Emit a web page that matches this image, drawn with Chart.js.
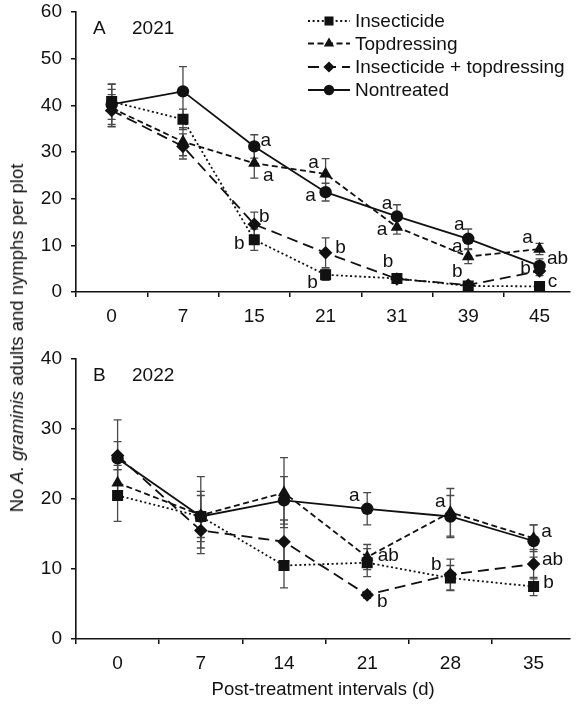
<!DOCTYPE html>
<html>
<head>
<meta charset="utf-8">
<script src="https://cdn.jsdelivr.net/npm/chart.js@4.4.1/dist/chart.umd.min.js"></script>
<style>
  html, body { margin: 0; padding: 0; background: #fff; overflow: hidden; }
  #wrap { position: relative; width: 578px; height: 704px; overflow: hidden; font-family: "Liberation Sans", Arial, sans-serif; color: #111; }
  .box { position: absolute; left: 0; width: 578px; }
  #ytitle { position: absolute; left: 17px; top: 338px; white-space: nowrap; font-size: 18.5px;
            transform: translate(-50%, -50%) rotate(-90deg); transform-origin: center; }
</style>
</head>
<body>
<div id="wrap">
  <div class="box" style="top:-10px;height:340px"><canvas id="cA"></canvas></div>
  <div class="box" style="top:330px;height:374px"><canvas id="cB"></canvas></div>
  <div id="ytitle">No <i>A. graminis</i> adults and nymphs per plot</div>
</div>
<script>
// ---------- DATA ----------
const seriesNames = ['Insecticide', 'Topdressing', 'Insecticide + topdressing', 'Nontreated'];

// Panel A (2021)
const daysA = ['0', '7', '15', '21', '31', '39', '45'];
const insA  = [40.8, 37.0, 11.2, 3.7, 2.9, 1.3, 1.2];
const topA  = [39.4, 32.2, 27.6, 25.3, 13.9, 7.6, 9.2];
const bothA = [38.9, 31.2, 14.5, 8.4, 2.8, 1.5, 4.5];
const nonA  = [40.2, 43.0, 31.2, 21.4, 16.2, 11.4, 5.6];
const errInsA  = [3.8, 2.2, 2.3, 1.2, 0.8, 0.4, 0.4];
const errTopA  = [4.0, 3.0, 3.2, 3.3, 1.5, 1.5, 1.2];
const errBothA = [3.4, 2.7, 2.6, 3.2, 0.8, 0.5, 1.0];
const errNonA  = [4.3, 5.3, 2.5, 1.9, 2.5, 2.1, 1.5];
const letInsA  = ['', '', 'b', 'b', 'b', 'b', 'c'];
const letTopA  = ['', '', 'a', 'a', 'a', 'a', 'a'];
const letBothA = ['', '', 'b', 'b', '', '', 'b'];
const letNonA  = ['', '', 'a', 'a', 'a', 'a', 'ab'];

// Panel B (2022)
const daysB = ['0', '7', '14', '21', '28', '35'];
const insB  = [20.5, 17.5, 10.5, 10.9, 8.7, 7.5];
const topB  = [22.3, 17.7, 20.9, 11.7, 18.1, 14.4];
const bothB = [26.2, 15.5, 13.9, 6.3, 9.2, 10.7];
const nonB  = [25.8, 17.5, 19.8, 18.6, 17.5, 14.0];
const errInsB  = [3.7, 3.6, 3.2, 2.0, 1.8, 1.3];
const errTopB  = [2.5, 5.5, 5.0, 1.8, 3.4, 1.9];
const errBothB = [2.0, 2.5, 3.1, 0.5, 2.2, 2.1];
const errNonB  = [5.5, 3.0, 3.4, 2.3, 3.0, 2.3];
const letInsB  = ['', '', '', '', 'b', 'b'];
const letTopB  = ['', '', '', 'ab', 'a', 'a'];
const letBothB = ['', '', '', 'b', '', 'ab'];
const letNonB  = ['', '', '', 'a', '', ''];

const yTicksA = [0, 10, 20, 30, 40, 50, 60];
const yTicksB = [0, 10, 20, 30, 40];

// ---------- STYLE / LAYOUT ----------
const FONT = '"Liberation Sans", Arial, sans-serif';
const INK = '#111';
const styles = [
  { dash: [2, 2.6], pointStyle: 'rect', radius: 7.8, legendR: 6.4 },
  { dash: [6, 3.5], pointStyle: 'triangle', radius: 7.2, legendR: 6.0 },
  { dash: [11, 6], pointStyle: 'rectRot', radius: 6.8, legendR: 5.6 },
  { dash: [], pointStyle: 'circle', radius: 6.2, legendR: 5.2 }
];
// letter offsets (pixels, relative to the point) — placement only
const offA = [
  [null, null, [-15, 4], [-13, 8], [-9, -17], [-11, -14], [13, -5]],
  [null, null, [14, 13], [-12, -11], [-15, 3], [-11, -10], [-12, -11]],
  [null, null, [10, -8], [15, -5], null, null, [-14, -2]],
  [null, null, [11.5, -6], [-15, 4], [-10, -13], [-9, -14], [18, -7]]
];
const offB = [
  [null, null, null, null, [-14, -13], [15, -4]],
  [null, null, null, [21, -1], [-10, -11], [13, -6]],
  [null, null, null, [15, 7], null, [19, -4]],
  [null, null, null, [-13, -13], null, null]
];

function buildDatasets(values) {
  return values.map((vals, si) => ({
    label: seriesNames[si],
    data: vals.map((v, i) => ({ x: i, y: v })),
    borderColor: INK,
    backgroundColor: INK,
    borderWidth: 1.8,
    borderDash: styles[si].dash,
    pointStyle: styles[si].pointStyle,
    pointRadius: styles[si].radius,
    pointHoverRadius: styles[si].radius,
    pointBackgroundColor: INK,
    pointBorderColor: INK,
    pointBorderWidth: 0,
    tension: 0,
    fill: false
  }));
}

function drawMarker(ctx, style, r, x, y) {
  ctx.beginPath();
  if (style === 'rect') {
    const s = r * Math.SQRT1_2;
    ctx.rect(x - s, y - s, 2 * s, 2 * s);
  } else if (style === 'triangle') {
    ctx.moveTo(x, y - r);
    ctx.lineTo(x + r * Math.sin(2 * Math.PI / 3), y - r * Math.cos(2 * Math.PI / 3));
    ctx.lineTo(x + r * Math.sin(4 * Math.PI / 3), y - r * Math.cos(4 * Math.PI / 3));
    ctx.closePath();
  } else if (style === 'rectRot') {
    ctx.moveTo(x, y - r); ctx.lineTo(x + r, y); ctx.lineTo(x, y + r); ctx.lineTo(x - r, y);
    ctx.closePath();
  } else {
    ctx.arc(x, y, r, 0, Math.PI * 2);
  }
  ctx.fill();
}

function makePlugin(cfg) {
  return {
    id: 'annot' + cfg.name,
    beforeDatasetsDraw(chart) {
      const ctx = chart.ctx, ys = chart.scales.y;
      ctx.save();
      ctx.strokeStyle = '#4a4a4a';
      ctx.lineWidth = 1.3;
      ctx.setLineDash([]);
      chart.data.datasets.forEach((ds, di) => {
        const meta = chart.getDatasetMeta(di);
        meta.data.forEach((pt, i) => {
          const v = ds.data[i].y, e = cfg.err[di][i];
          const y1 = ys.getPixelForValue(v + e), y2 = ys.getPixelForValue(v - e);
          ctx.beginPath();
          ctx.moveTo(pt.x, y1); ctx.lineTo(pt.x, y2);
          ctx.moveTo(pt.x - 4, y1); ctx.lineTo(pt.x + 4, y1);
          ctx.moveTo(pt.x - 4, y2); ctx.lineTo(pt.x + 4, y2);
          ctx.stroke();
        });
      });
      ctx.restore();
    },
    afterDatasetsDraw(chart) {
      const ctx = chart.ctx, area = chart.chartArea;
      ctx.save();
      ctx.fillStyle = INK;
      ctx.font = '19px ' + FONT;
      ctx.textAlign = 'center';
      ctx.textBaseline = 'middle';
      // significance letters
      chart.data.datasets.forEach((ds, di) => {
        const meta = chart.getDatasetMeta(di);
        meta.data.forEach((pt, i) => {
          const t = cfg.letters[di][i];
          const o = cfg.offsets[di][i];
          if (t && o) ctx.fillText(t, pt.x + o[0], pt.y + o[1]);
        });
      });
      // panel label
      ctx.textAlign = 'left';
      ctx.fillText(cfg.panel, area.left + 17, area.top + cfg.panelDy);
      ctx.fillText(cfg.year, area.left + 56, area.top + cfg.panelDy);
      // legend (placed relative to the plot's top edge)
      if (cfg.legend) {
        const rows = [9, 31.5, 55, 78];
        seriesNames.forEach((name, si) => {
          const y = area.top + rows[si];
          ctx.save();
          ctx.strokeStyle = INK;
          ctx.lineWidth = 1.8;
          ctx.setLineDash(styles[si].dash);
          ctx.beginPath();
          ctx.moveTo(308, y); ctx.lineTo(350, y);
          ctx.stroke();
          ctx.restore();
          drawMarker(ctx, styles[si].pointStyle, styles[si].legendR, 329, y);
          ctx.fillText(name, 355, y + 1);
        });
      }
      ctx.restore();
    }
  };
}

function makeChart(id, cfg) {
  return new Chart(document.getElementById(id), {
    type: 'line',
    data: { datasets: buildDatasets(cfg.values) },
    options: {
      responsive: true,
      maintainAspectRatio: false,
      animation: false,
      devicePixelRatio: 1,
      layout: { padding: { top: cfg.padTop, right: 0, left: 0, bottom: 0 } },
      plugins: { legend: { display: false }, tooltip: { enabled: false } },
      scales: {
        x: {
          type: 'linear',
          min: -0.5,
          max: cfg.xMax,
          afterBuildTicks: (s) => { s.ticks = cfg.days.map((d, i) => ({ value: i })); },
          afterFit: (s) => { s.height = cfg.xHeight; },
          grid: { display: true, drawOnChartArea: false, drawTicks: true, tickLength: 5,
                  offset: true, color: INK, lineWidth: 1.5 },
          border: { display: true, color: INK, width: 1.6 },
          ticks: { color: INK, font: { family: FONT, size: 19 }, padding: 8,
                   maxRotation: 0, autoSkip: false,
                   callback: (v) => cfg.days[v] !== undefined ? cfg.days[v] : '' },
          title: cfg.xTitle ? { display: true, text: cfg.xTitle, color: INK,
                   font: { family: FONT, size: 18.5 }, padding: { top: 0, bottom: 3 } } : { display: false }
        },
        y: {
          min: 0,
          max: cfg.yTicks[cfg.yTicks.length - 1],
          afterBuildTicks: (s) => { s.ticks = cfg.yTicks.map(v => ({ value: v })); },
          afterFit: (s) => { s.width = 76; },
          grid: { display: true, drawOnChartArea: false, drawTicks: true, tickLength: 5,
                  color: INK, lineWidth: 1.5 },
          border: { display: true, color: INK, width: 1.6 },
          ticks: { color: INK, font: { family: FONT, size: 19 }, padding: 9 }
        }
      }
    },
    plugins: [makePlugin(cfg)]
  });
}

makeChart('cA', {
  name: 'A', days: daysA, yTicks: yTicksA,
  values: [insA, topA, bothA, nonA],
  err: [errInsA, errTopA, errBothA, errNonA],
  letters: [letInsA, letTopA, letBothA, letNonA],
  offsets: offA,
  xMax: 6.43, xHeight: 38, padTop: 22,
  panel: 'A', year: '2021', panelDy: 17, legend: true
});

makeChart('cB', {
  name: 'B', days: daysB, yTicks: yTicksB,
  values: [insB, topB, bothB, nonB],
  err: [errInsB, errTopB, errBothB, errNonB],
  letters: [letInsB, letTopB, letBothB, letNonB],
  offsets: offB,
  xMax: 5.44, xHeight: 65, padTop: 29,
  panel: 'B', year: '2022', panelDy: 17, legend: false,
  xTitle: 'Post-treatment intervals (d)'
});
</script>
</body>
</html>
